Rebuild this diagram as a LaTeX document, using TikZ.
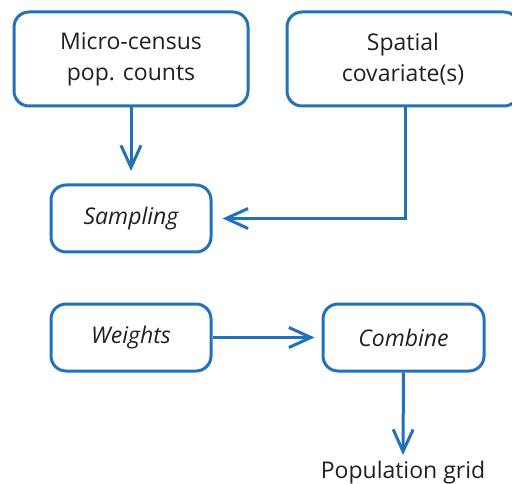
\documentclass[tikz,border=0pt]{standalone}
\usepackage{fontspec}
\setmainfont{Open Sans}
\usetikzlibrary{arrows.meta}
\definecolor{fblue}{RGB}{35,113,185}
\definecolor{ftext}{RGB}{35,31,32}
\tikzset{
  box/.style={draw=fblue, line width=3pt, rounded corners=15pt, inner sep=0pt, align=center, text=ftext, font=\fontsize{23}{31}\selectfont},
  conn/.style={draw=fblue, line width=3pt, -{Straight Barb[length=22pt,width=20pt,line width=3pt]}},
}
\begin{document}
\begin{tikzpicture}[x=1pt,y=-1pt]
\useasboundingbox (0,0) rectangle (512,484);
\clip (0,0) rectangle (512,484);
\node[box, minimum width=234pt, minimum height=94pt] (mc) at (131,59) {Micro-census\\pop. counts};
\node[box, minimum width=232pt, minimum height=94pt] (sc) at (403,59) {Spatial\\covariate(s)};
\node[box, minimum width=160pt, minimum height=67pt] (samp) at (131,218.5) {\itshape Sampling};
\node[box, minimum width=160pt, minimum height=67pt] (w) at (131,337.5) {\itshape Weights};
\node[box, minimum width=161pt, minimum height=67pt] (comb) at (403.5,337.5) {\itshape Combine};
\node[text=ftext, font=\fontsize{23}{31}\selectfont, anchor=base, inner sep=0pt] (pg) at (403,478) {Population grid};
\coordinate (pgtop) at (403,455);
\draw[conn] (mc.south) -- (131,171);
\draw[conn] (sc.south -| 405,0) |- ([xshift=10pt]samp.east);
\draw[conn] (w.east) -- ([xshift=-7pt]comb.west);
\draw[conn] (comb.south) -- (pgtop);
\end{tikzpicture}
\end{document}
